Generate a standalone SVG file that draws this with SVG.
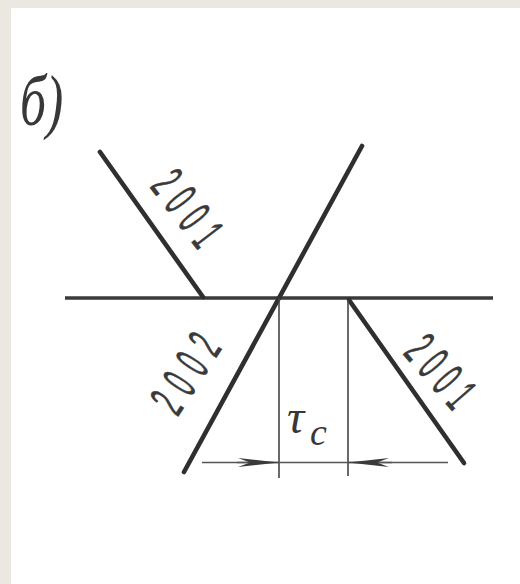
<svg xmlns="http://www.w3.org/2000/svg" width="520" height="584" viewBox="0 0 520 584">
  <style>
    .thick { stroke: #2f2f2f; stroke-width: 4.6; stroke-linecap: round; fill: none; }
    .base { stroke: #3a3a3a; stroke-width: 3.6; fill: none; }
    .ext { stroke: #444; stroke-width: 1.6; fill: none; }
    .dim { stroke: #555; stroke-width: 1.3; fill: none; }
    .num { font-family: "Liberation Sans", Arial, sans-serif; font-size: 50px; fill: #3a3a3a; stroke: #3a3a3a; stroke-width: 0.7; text-anchor: middle; }
    .math { font-family: "Liberation Serif", "Times New Roman", serif; font-style: italic; fill: #383838; }
  </style>
  <defs>
    <marker id="arrow" viewBox="-44 -6 46 12" markerWidth="46" markerHeight="12" refX="0" refY="0" markerUnits="userSpaceOnUse" orient="auto">
      <path d="M0,0 L-41,-4.5 L-29,0 L-41,4.5 Z" fill="#3a3a3a"/>
    </marker>
  </defs>

  <rect x="0" y="0" width="520" height="584" fill="#ebe8e1"/>
  <rect x="11" y="8" width="509" height="576" fill="#ffffff"/>

  <g id="panel-label">
    <text class="math" transform="translate(20,125) scale(0.72,1)" font-size="72">б)</text>
  </g>

  <g id="lines">
    <line class="base" x1="65" y1="298" x2="493" y2="298"/>
    <line class="thick" x1="100" y1="152" x2="203" y2="297"/>
    <line class="thick" x1="362" y1="146" x2="184" y2="472"/>
    <line class="thick" x1="349" y1="300" x2="464" y2="463"/>
  </g>

  <g id="connectors">
    <line class="ext" x1="279" y1="298" x2="279" y2="478"/>
    <line class="ext" x1="348" y1="300" x2="348" y2="476"/>
    <line class="dim" x1="202" y1="462.5" x2="448" y2="462.5"/>
    <line class="dim" x1="237" y1="462.5" x2="279" y2="462.5" marker-end="url(#arrow)"/>
    <line class="dim" x1="392" y1="462.5" x2="348" y2="462.5" marker-end="url(#arrow)"/>
  </g>

  <g id="label-2001-top">
    <text class="num" transform="translate(188,208) rotate(52.6) scale(0.46,1)" x="0" y="17.9" textLength="176" lengthAdjust="spacing">2001</text>
  </g>
  <g id="label-2002">
    <text class="num" transform="translate(185,373) rotate(-57) scale(0.46,1)" x="0" y="17.9" textLength="180" lengthAdjust="spacing">2002</text>
  </g>
  <g id="label-2001-right">
    <text class="num" transform="translate(441,371) rotate(49) scale(0.46,1)" x="0" y="17.9" textLength="168" lengthAdjust="spacing">2001</text>
  </g>

  <g id="label-tau">
    <text class="math" x="287" y="433" font-size="48">τ</text>
    <text class="math" x="310" y="445" font-size="38">c</text>
  </g>
</svg>
